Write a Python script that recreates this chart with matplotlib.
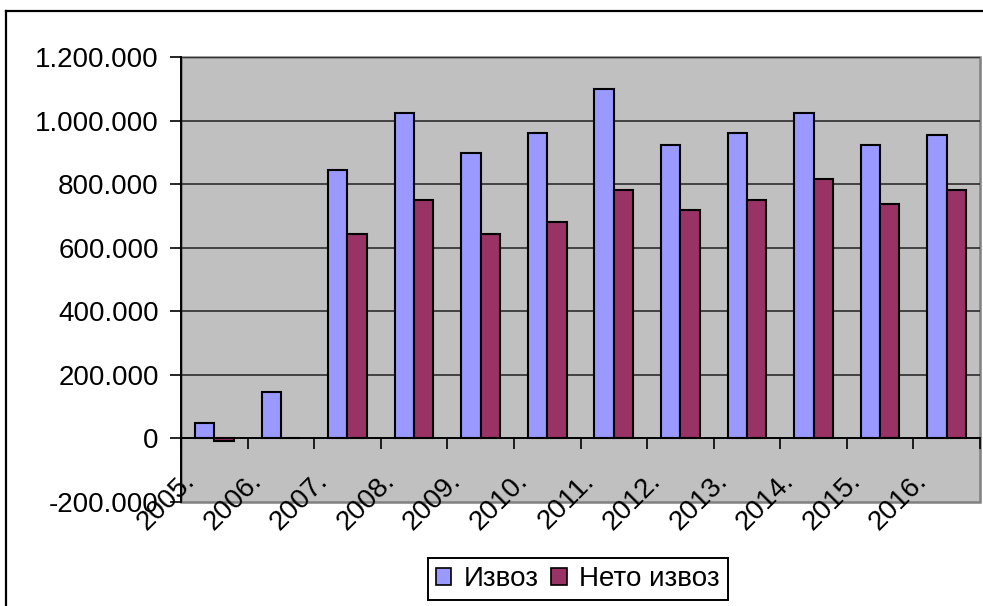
# Export and net export by year, Excel-style clustered column chart

import numpy as np
import matplotlib.pyplot as plt
from matplotlib.lines import Line2D
from matplotlib.patches import Rectangle, Patch

# data
years = ['2005.', '2006.', '2007.', '2008.', '2009.', '2010.', '2011.',
         '2012.', '2013.', '2014.', '2015.', '2016.']
izvoz = [50000, 145000, 846000, 1023000, 897000, 960000, 1099000,
         922000, 960000, 1023000, 922000, 954000]
neto_izvoz = [-8000, 0, 643000, 751000, 643000, 681000, 783000,
              718000, 751000, 815000, 738000, 783000]
series_names = ['Извоз', 'Нето извоз']
yticks = [-200000, 0, 200000, 400000, 600000, 800000, 1000000, 1200000]

blue = '#9999FF'
maroon = '#993366'

plt.rcParams['font.family'] = ['Liberation Sans', 'DejaVu Sans']

fig = plt.figure(figsize=(9.83, 6.06), dpi=100)
ax = fig.add_axes([181 / 983, 104 / 606, 799 / 983, 445 / 606])
ax.set_facecolor('#C0C0C0')

x = np.arange(len(years)) + 0.5
w = 0.29
ax.bar(x - w / 2, izvoz, w, color=blue, edgecolor='black', linewidth=1.5, zorder=3)
ax.bar(x + w / 2, neto_izvoz, w, color=maroon, edgecolor='black', linewidth=1.5, zorder=3)

ax.set_xlim(0, len(years))
ax.set_ylim(-200000, 1200000)

# gridlines
for v in yticks[2:]:
    ax.axhline(v, color='#202020', linewidth=1.1, zorder=1)

# y axis
ax.set_yticks(yticks)
ax.set_yticklabels([f"{v:,}".replace(',', '.') for v in yticks], fontsize=20)
ax.tick_params(axis='y', direction='out', length=8, width=1.2, pad=8)

# x axis sits on the zero line, ticks at category boundaries
ax.spines['bottom'].set_position(('data', 0))
ax.spines['bottom'].set_linewidth(1.4)
ax.spines['left'].set_linewidth(1.4)
ax.spines['top'].set_visible(False)
ax.spines['right'].set_visible(False)
ax.set_xticks(np.arange(len(years) + 1))
ax.set_xticklabels([])
ax.tick_params(axis='x', direction='out', length=8, width=1.2)

# gray border of the plot area
ax.add_patch(Rectangle((0, 0), 1, 1, transform=ax.transAxes, fill=False,
                       edgecolor='#808080', linewidth=1.8, zorder=0.5, clip_on=False))

# rotated category labels
trans = ax.get_xaxis_transform()
for xi, lab in zip(x, years):
    ax.text(xi - 0.28, 0.045, lab, transform=trans, rotation=45,
            rotation_mode='anchor', ha='right', va='baseline', fontsize=20, zorder=4)

# legend
handles = [Patch(facecolor=blue, edgecolor='black', linewidth=1.2),
           Patch(facecolor=maroon, edgecolor='black', linewidth=1.2)]
leg = fig.legend(handles, series_names, loc='center', bbox_to_anchor=(578 / 983, 1 - 579 / 606),
                 ncol=2, fontsize=20, frameon=True, fancybox=False, shadow=False,
                 handlelength=0.55, handleheight=0.55, handletextpad=0.45,
                 columnspacing=0.45, borderpad=0.3)
leg.get_frame().set_edgecolor('black')
leg.get_frame().set_linewidth(1.4)
leg.get_frame().set_alpha(1)

# outer chart border (only top and left are visible)
fig.add_artist(Line2D([6 / 983, 6 / 983], [0, 1 - 11 / 606], transform=fig.transFigure,
                      color='black', linewidth=1.6))
fig.add_artist(Line2D([6 / 983, 1], [1 - 11 / 606, 1 - 11 / 606], transform=fig.transFigure,
                      color='black', linewidth=1.6))

fig.savefig('out.png', dpi=100)
